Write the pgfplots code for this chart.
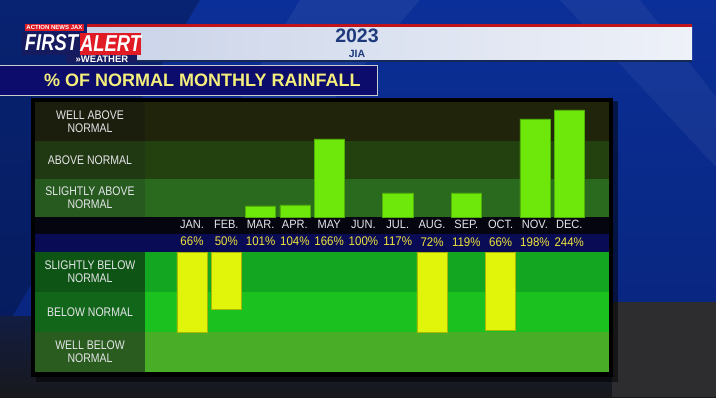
\documentclass[border=0pt]{standalone}
\usepackage{pgfplots}
\pgfplotsset{compat=1.18}
\usepackage{fontspec}
\setmainfont{Liberation Sans}
\newfontfamily\narrow{Liberation Sans}[FakeStretch=0.84]
\newfontfamily\midw{Liberation Sans}[FakeStretch=0.92]
\newfontfamily\logofont{Liberation Sans}[FakeStretch=0.8]
\definecolor{bgtop}{HTML}{0B2F98}
\definecolor{bgmid}{HTML}{08247A}
\definecolor{floor}{HTML}{18181C}
\definecolor{hdrL}{HTML}{C9D3E8}
\definecolor{hdrR}{HTML}{EEF1F8}
\definecolor{hdrred}{HTML}{C0141C}
\definecolor{navytxt}{HTML}{1E3A7C}
\definecolor{titlebg}{HTML}{0C0C6C}
\definecolor{titleyel}{HTML}{F4EE7C}
\definecolor{logonavy}{HTML}{151B5E}
\definecolor{logored}{HTML}{E01B24}
\definecolor{bWA}{HTML}{1F240B}
\definecolor{bA}{HTML}{23400F}
\definecolor{bSA}{HTML}{2A6A1E}
\definecolor{bSB}{HTML}{13A620}
\definecolor{bB}{HTML}{1BC11E}
\definecolor{bWB}{HTML}{4AAD27}
\definecolor{lWA}{HTML}{1B1E0C}
\definecolor{lA}{HTML}{213913}
\definecolor{lSA}{HTML}{265A1F}
\definecolor{lSB}{HTML}{0E5515}
\definecolor{lB}{HTML}{12661A}
\definecolor{lWB}{HTML}{2A5C1F}
\definecolor{monthrow}{HTML}{04050F}
\definecolor{pctrow}{HTML}{0A0B55}
\definecolor{barGreen}{HTML}{6EE80A}
\definecolor{barYellow}{HTML}{E0F50A}
\definecolor{pctyellow}{HTML}{F0E43C}
\definecolor{monthwhite}{HTML}{E6E6EA}
\begin{document}
\begin{tikzpicture}
\begin{scope}[x=1pt,y=1pt]
\useasboundingbox (0,0) rectangle (716,397);
% ---------- background ----------
\shade[top color=bgtop, bottom color=bgmid] (0,0) rectangle (716,397);
\fill[white, opacity=0.06] (300,397) -- (420,397) -- (250,200) -- (180,200) -- cycle;
\fill[white, opacity=0.05] (560,397) -- (640,397) -- (716,300) -- (716,230) -- cycle;
\fill[black, opacity=0.25] (0,60) -- (200,397) -- (0,397) -- cycle;
\shade[top color=floor!60!bgmid, bottom color=floor] (0,0) rectangle (716,80);
\fill[floor!80!gray] (612,0) rectangle (716,95);
% ---------- header bar ----------
\shade[left color=hdrL, right color=hdrR] (87,336) rectangle (692,370);
\fill[hdrred] (87,370) rectangle (692,373);
\fill[navytxt!70!black] (87,335) rectangle (692,336.5);
\node[font=\bfseries\fontsize{19.5}{20}\selectfont, text=navytxt] at (357,361) {2023};
\node[font=\bfseries\fontsize{10.5}{11}\selectfont, text=navytxt] at (357,343.5) {JIA};
% ---------- logo ----------
\fill[logored] (25,365.5) rectangle (84,373);
\node[inner sep=0pt, font=\bfseries\fontsize{6}{6}\selectfont, text=white] at (54.5,369.3) {ACTION NEWS JAX};
\fill[logonavy] (22,342) rectangle (81,365);
\fill[logored] (80,342) rectangle (141,364);
\fill[logonavy] (66,333.5) rectangle (137,342);
\node[inner sep=0pt, font=\logofont\bfseries\itshape\fontsize{23}{23}\selectfont, text=white] at (51.5,354) {FIRST};
\node[inner sep=0pt, font=\logofont\bfseries\itshape\fontsize{23}{23}\selectfont, text=white] at (110.5,353.5) {ALERT};
\node[inner sep=0pt, font=\bfseries\fontsize{9.5}{10}\selectfont, text=white] at (102,337.6) {\guillemotright WEATHER};
% ---------- title box ----------
\fill[titlebg, draw=gray!40, line width=0.9pt] (-2,302) rectangle (377,332);
\node[anchor=base west, inner sep=0pt, font=\bfseries\fontsize{18}{18}\selectfont, text=titleyel] at (44,310) {\% OF NORMAL MONTHLY RAINFALL};
% ---------- panel ----------
\fill[black, opacity=0.5] (36,15) rectangle (618,296);
\fill[black] (31,20) rectangle (613,299);
% bands (plot area)
\fill[bWA] (145,256) rectangle (609,295);
\fill[bA]  (145,218) rectangle (609,256);
\fill[bSA] (145,180) rectangle (609,218);
\fill[monthrow] (35,163) rectangle (609,180);
\fill[pctrow] (35,145) rectangle (609,163);
\fill[bSB] (145,105) rectangle (609,145);
\fill[bB]  (145,65) rectangle (609,105);
\fill[bWB] (145,25) rectangle (609,65);
% label column
\fill[lWA] (35,256) rectangle (145,295);
\fill[lA]  (35,218) rectangle (145,256);
\fill[lSA] (35,180) rectangle (145,218);
\fill[lSB] (35,105) rectangle (145,145);
\fill[lB]  (35,65) rectangle (145,105);
\fill[lWB] (35,25) rectangle (145,65);
\begin{scope}[every node/.style={font=\narrow\fontsize{12.5}{13}\selectfont, text=monthwhite, align=center}]
\node at (90,275.5) {WELL ABOVE\\NORMAL};
\node at (90,237) {ABOVE NORMAL};
\node at (90,199) {SLIGHTLY ABOVE\\NORMAL};
\node at (90,125) {SLIGHTLY BELOW\\NORMAL};
\node at (90,85) {BELOW NORMAL};
\node at (90,45) {WELL BELOW\\NORMAL};
\end{scope}
\end{scope}
% ---------- upper axis: above-normal bars, month and percent labels ----------
\begin{axis}[at={(145pt,180pt)}, anchor=south west, scale only axis,
  width=464pt, height=114pt,
  xmin=-1.37, xmax=12.16, ymin=0, ymax=114,
  axis line style={draw=none}, ytick=\empty, major tick length=0pt,
  xtick={0,...,11},
  xticklabels={
   {JAN.\\{\color{pctyellow}\fontsize{12.5}{12}\selectfont 66\%}},
   {FEB.\\{\color{pctyellow}\fontsize{12.5}{12}\selectfont 50\%}},
   {MAR.\\{\color{pctyellow}\fontsize{12.5}{12}\selectfont 101\%}},
   {APR.\\{\color{pctyellow}\fontsize{12.5}{12}\selectfont 104\%}},
   {MAY\\{\color{pctyellow}\fontsize{12.5}{12}\selectfont 166\%}},
   {JUN.\\{\color{pctyellow}\fontsize{12.5}{12}\selectfont 100\%}},
   {JUL.\\{\color{pctyellow}\fontsize{12.5}{12}\selectfont 117\%}},
   {AUG.\\{\color{pctyellow}\fontsize{12.5}{12}\selectfont 72\%}},
   {SEP.\\{\color{pctyellow}\fontsize{12.5}{12}\selectfont 119\%}},
   {OCT.\\{\color{pctyellow}\fontsize{12.5}{12}\selectfont 66\%}},
   {NOV.\\{\color{pctyellow}\fontsize{12.5}{12}\selectfont 198\%}},
   {DEC.\\{\color{pctyellow}\fontsize{12.5}{12}\selectfont 244\%}}},
  xticklabel style={anchor=north, inner sep=0pt, yshift=-3pt, align=center,
    font=\midw\fontsize{12}{17.5}\selectfont, text=monthwhite},
  clip=false]
\addplot[ybar, bar width=0.88, fill=barGreen, draw=barGreen!75!black, line width=0.5pt]
  coordinates {(2,11) (3,12) (4,78) (6,24) (8,24) (10,98) (11,107)};
\end{axis}
% ---------- lower axis: below-normal bars ----------
\begin{axis}[at={(145pt,25pt)}, anchor=south west, scale only axis,
  width=464pt, height=120pt,
  xmin=-1.37, xmax=12.16, ymin=0, ymax=120, y dir=reverse,
  axis line style={draw=none}, xtick=\empty, ytick=\empty,
  clip=false]
\addplot[ybar, bar width=0.88, fill=barYellow, draw=barYellow!75!black, line width=0.5pt]
  coordinates {(0,80) (1,57) (7,80) (9,78)};
\end{axis}
\end{tikzpicture}
\end{document}
